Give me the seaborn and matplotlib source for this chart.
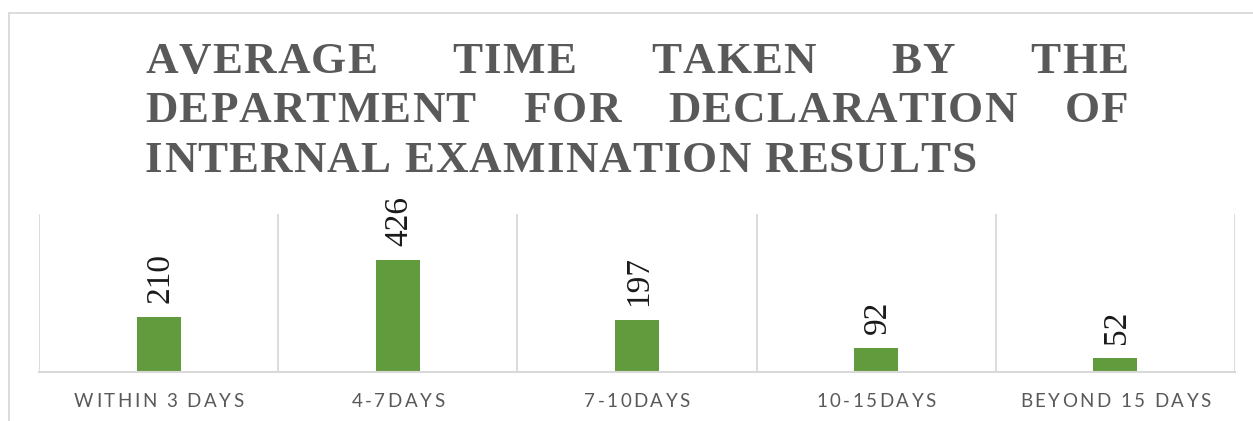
import matplotlib
matplotlib.use("Agg")
import matplotlib.pyplot as plt
import seaborn as sns
import pandas as pd
from matplotlib.lines import Line2D
from matplotlib.font_manager import FontProperties, findfont
from matplotlib.ft2font import FT2Font

categories = ["WITHIN 3 DAYS", "4-7DAYS", "7-10DAYS", "10-15DAYS", "BEYOND 15 DAYS"]
values = [210, 426, 197, 92, 52]
title_lines = [
    ["AVERAGE", "TIME", "TAKEN", "BY", "THE"],
    ["DEPARTMENT", "FOR", "DECLARATION", "OF"],
    ["INTERNAL EXAMINATION RESULTS"],
]

W, H = 1253, 421
DPI = 100
sns.set_style("white")
fig = plt.figure(figsize=(W / DPI, H / DPI), dpi=DPI)


def advances(s, family, size, weight="normal"):
    path = findfont(FontProperties(family=family, weight=weight))
    f = FT2Font(path)
    f.set_size(size, DPI)
    return [f.load_char(ord(c)).linearHoriAdvance / 65536.0 for c in s]


def spaced_width(s, family, size, ls, weight="normal"):
    adv = advances(s, family, size, weight)
    return sum(adv) + ls * (len(s) - 1)


def draw_spaced(x, yb, s, family, size, ls, color, weight="normal"):
    adv = advances(s, family, size, weight)
    for c, a in zip(s, adv):
        if c != " ":
            fig.text(x / W, 1 - yb / H, c, fontsize=size, family=family, weight=weight,
                     color=color, ha="left", va="baseline")
        x += a + ls


df = pd.DataFrame({"cat": categories, "val": values})
ax_l, ax_r, ax_t, ax_b = 39, 1235, 214, 371.7
ax = fig.add_axes([ax_l / W, (H - ax_b) / H, (ax_r - ax_l) / W, (ax_b - ax_t) / H])
sns.barplot(data=df, x="cat", y="val", color="#629A3E", width=0.184, ax=ax,
            saturation=1, edgecolor="none")
ax.set_ylim(0, 600)
ax.set_xlim(-0.5, len(categories) - 0.5)
ax.set_yticks([])
ax.set_xlabel("")
ax.set_ylabel("")
for s in ["top", "right", "left"]:
    ax.spines[s].set_visible(False)
ax.spines["bottom"].set_color("#D9D9D9")
ax.spines["bottom"].set_linewidth(1.5)
for i in range(len(categories) + 1):
    ax.axvline(i - 0.5, color="#D9D9D9", lw=1.3, zorder=0)
ax.set_xticks(range(len(categories)))
ax.set_xticklabels([])
ax.tick_params(axis="x", length=0)

# letter-spaced category labels, centred under each category
tick_size, tick_ls = 13.5, 2.5
for i, c in enumerate(categories):
    cx_disp = ax.transData.transform((i, 0))[0]
    w = spaced_width(c, "Lato", tick_size, tick_ls)
    draw_spaced(cx_disp - w / 2, 406.7, c, "Lato", tick_size, tick_ls, "#595959")

for p, v in zip(ax.patches, values):
    ax.annotate(str(v), (p.get_x() + p.get_width() / 2, p.get_height()),
                xytext=(1, 10), textcoords="offset points", rotation=90,
                ha="center", va="bottom", fontsize=24, family="Liberation Serif",
                color="#1a1a1a", annotation_clip=False)

# outer chart border
fig.add_artist(Line2D([9 / W, 1], [1 - 13 / H, 1 - 13 / H], transform=fig.transFigure,
                      color="#D9D9D9", lw=1.3))
fig.add_artist(Line2D([9 / W, 9 / W], [0, 1 - 13 / H], transform=fig.transFigure,
                      color="#D9D9D9", lw=1.3))

# justified, letter-spaced title
x0, x1 = 145, 1128
baselines = [73, 122.5, 172]
t_size, t_ls = 32.4, 1.15
for words, yb in zip(title_lines, baselines):
    widths = [spaced_width(w, "Liberation Serif", t_size, t_ls, "bold") for w in words]
    gap = (x1 - x0 - sum(widths)) / (len(words) - 1) if len(words) > 1 else 0
    x = x0
    for w, wd in zip(words, widths):
        draw_spaced(x, yb, w, "Liberation Serif", t_size, t_ls, "#595959", "bold")
        x += wd + gap

fig.savefig("out.png", dpi=DPI)
